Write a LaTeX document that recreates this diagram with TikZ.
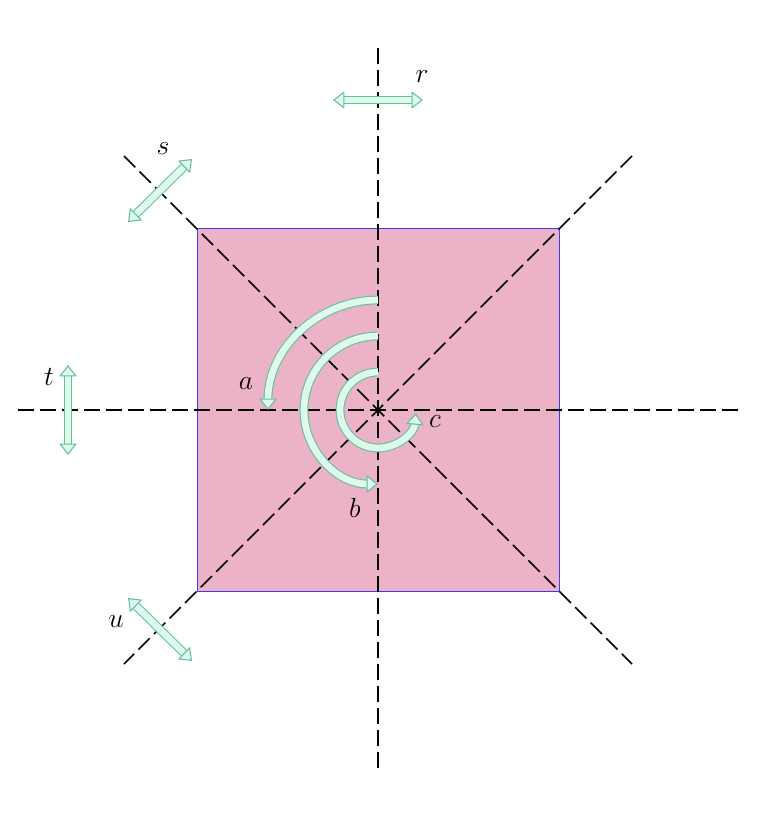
\documentclass[tikz,border=0pt]{standalone}
\usepackage{amsmath}
\usepackage{tikz}
\usetikzlibrary{arrows.meta}

\definecolor{sqpink}{RGB}{235,178,200}
\definecolor{sqblue}{RGB}{60,60,235}
\definecolor{mintfill}{RGB}{222,250,232}
\definecolor{mintline}{RGB}{100,190,165}

\begin{document}
\begin{tikzpicture}[x=0.75pt,y=0.75pt,yscale=-1,xscale=1,
  axisline/.style={line width=1.3pt, dash pattern=on 12pt off 4.5pt},
  fat/.style={draw=mintline, line width=0.8pt, double=mintfill, double distance=5pt},
  fathead/.style={-{Triangle[fill=mintfill, length=8.5pt, width=13pt]}},
  fatboth/.style={{Triangle[fill=mintfill, length=8.5pt, width=13pt]}-{Triangle[fill=mintfill, length=8.5pt, width=13pt]}},
  lbl/.style={inner sep=0.75pt, font=\fontsize{20}{24}\selectfont}]
\useasboundingbox (0,0) rectangle (780,814);
\coordinate (O) at (378,410);
%square
\draw [draw=sqblue, fill=sqpink, line width=0.7pt] (197,228) rectangle (559,591);
%symmetry axes
\draw [axisline] (18,410) -- (738,410);
\draw [axisline] (378,48) -- (378,770);
\draw [axisline] (124,156) -- (632,664);
\draw [axisline] (632,156) -- (124,664);
%rotations
\draw [fat, fathead] (378,300) arc [start angle=-90, end angle=-180, radius=110];
\draw [fat, fathead] (378,336) arc [start angle=-90, end angle=-270, radius=74];
\draw [fat, fathead] (378,372) arc [start angle=-90, end angle=-355, radius=38];
%reflections
\draw [fat, fatboth] (333,100) -- (423,100);
\draw [fat, fatboth] (128,222) -- (192,159);
\draw [fat, fatboth] (68,365) -- (68,455);
\draw [fat, fatboth] (128,598) -- (192,661);
%labels
\node [lbl] (la) at (246,384) {$a$};
\node [lbl] (lb) at (355,508) {$b$};
\node [lbl] (lc) at (435,422) {$c$};
\node [lbl] (lr) at (422,77) {$r$};
\node [lbl] (ls) at (163,149) {$s$};
\node [lbl] (lt) at (49,377) {$t$};
\node [lbl] (lu) at (116,622) {$u$};
\end{tikzpicture}
\end{document}
